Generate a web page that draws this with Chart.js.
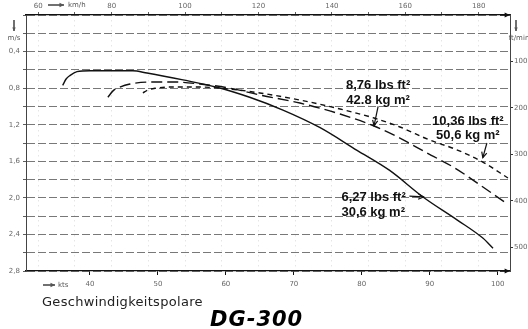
<!DOCTYPE html>
<html>
<head>
<meta charset="utf-8">
<script src="https://cdn.jsdelivr.net/npm/chart.js@4.4.0/dist/chart.umd.min.js"></script>
<style>
  html, body { margin: 0; padding: 0; background: #fff; }
  #wrap { position: relative; width: 528px; height: 329px; }
  #caption { position: absolute; left: 42px; top: 294px; font: 13px "DejaVu Sans", sans-serif; color: #222; letter-spacing: 0.3px; }
  #logo { position: absolute; left: 210px; top: 307px; font: italic bold 21px "DejaVu Sans", sans-serif; color: #000; letter-spacing: 1px; }
</style>
</head>
<body>
<div id="wrap">
  <canvas id="polar"></canvas>
  <div id="caption">Geschwindigkeitspolare</div>
  <div id="logo">DG-300</div>
</div>
<script>
// axis ranges / ticks
const ktsMin = 30.6, ktsMax = 101.8;
const sinkMax = 2.8;
const kmhPerKt = 1.852, ftminPerMs = 196.85;
const ktsTicks = [40, 50, 60, 70, 80, 90, 100];
const kmhGrid = [60, 70, 80, 90, 100, 110, 120, 130, 140, 150, 160, 170, 180];
const kmhLabels = [60, 80, 100, 120, 140, 160, 180];
const sinkGrid = [0, 0.2, 0.4, 0.6, 0.8, 1.0, 1.2, 1.4, 1.6, 1.8, 2.0, 2.2, 2.4, 2.6, 2.8];
const sinkLabels = [0.4, 0.8, 1.2, 1.6, 2.0, 2.4, 2.8];
const ftminTicks = [100, 200, 300, 400, 500];

// polars, speed in kts, sink in m/s
const speed306 = [36.0, 36.5, 37.1, 38.1, 40.0, 43.0, 46.3, 48.4, 53.7, 58.7, 63.5, 68.4, 73.8, 79.3, 84.1, 89.0, 94.0, 97.8, 99.3];
const sink306  = [0.77, 0.70, 0.66, 0.62, 0.61, 0.61, 0.61, 0.635, 0.71, 0.79, 0.90, 1.04, 1.23, 1.48, 1.70, 1.99, 2.24, 2.44, 2.55];
const speed428 = [42.65, 43.4, 44.4, 45.9, 48.8, 52.5, 56.2, 60.6, 65.0, 70.9, 76.8, 81.8, 85.6, 89.6, 93.7, 97.4, 101.0];
const sink428  = [0.90, 0.83, 0.79, 0.755, 0.733, 0.733, 0.755, 0.80, 0.875, 0.963, 1.083, 1.214, 1.346, 1.51, 1.674, 1.86, 2.046];
const speed506 = [47.8, 48.5, 49.7, 51.8, 56.2, 60.6, 65.0, 70.9, 76.8, 81.8, 85.6, 90.0, 93.7, 97.8, 101.5];
const sink506  = [0.853, 0.821, 0.80, 0.788, 0.788, 0.81, 0.853, 0.93, 1.028, 1.127, 1.225, 1.368, 1.466, 1.608, 1.783];

const loadLabels = [
  ['8,76 lbs ft²', '42.8 kg m²'],
  ['10,36 lbs ft²', '50,6 kg m²'],
  ['6,27 lbs ft²', '30,6 kg m²']
];

const zip = (xs, ys) => xs.map((x, i) => ({ x: x, y: ys[i] }));

function arrow(ctx, x1, y1, x2, y2, head, filled) {
  ctx.beginPath();
  ctx.moveTo(x1, y1);
  ctx.lineTo(x2, y2);
  ctx.stroke();
  const a = Math.atan2(y2 - y1, x2 - x1);
  ctx.beginPath();
  ctx.moveTo(x2 - head * Math.cos(a - 0.45), y2 - head * Math.sin(a - 0.45));
  ctx.lineTo(x2, y2);
  ctx.lineTo(x2 - head * Math.cos(a + 0.45), y2 - head * Math.sin(a + 0.45));
  if (filled) { ctx.closePath(); ctx.fill(); } else { ctx.stroke(); }
}

// text notes + arrows at data coordinates
const notesPlugin = {
  id: 'notes',
  afterDatasetsDraw(chart) {
    const { ctx, chartArea: ca, scales } = chart;
    const px = v => scales.x.getPixelForValue(v);
    const py = v => scales.y.getPixelForValue(v);
    const notes = [
      { text: loadLabels[0], x: 82.4, y: [0.766, 0.93], align: 'center', from: [82.4, 1.0], to: [81.8, 1.21] },
      { text: loadLabels[1], x: 95.6, y: [1.16, 1.313], align: 'center', from: [98.4, 1.40], to: [97.8, 1.56] },
      { text: loadLabels[2], x: 77.0, y: [1.99, 2.155], align: 'left', from: [87.0, 1.98], to: [89.1, 1.99] }
    ];
    ctx.save();
    ctx.fillStyle = '#111';
    ctx.strokeStyle = '#111';
    ctx.lineWidth = 1.2;
    ctx.font = 'bold 13px "Liberation Sans", Arial, sans-serif';
    ctx.textBaseline = 'middle';
    notes.forEach(n => {
      ctx.textAlign = n.align;
      n.text.forEach((t, i) => ctx.fillText(t, px(n.x), py(n.y[i])));
      arrow(ctx, px(n.from[0]), py(n.from[1]), px(n.to[0]), py(n.to[1]), 6, false);
    });

    // axis arrows and unit labels
    ctx.lineWidth = 1.2;
    arrow(ctx, ca.right - 10, ca.top, ca.right, ca.top, 6, true);
    arrow(ctx, ca.right - 10, ca.bottom, ca.right, ca.bottom, 6, true);
    ctx.font = '7px "DejaVu Sans", sans-serif';
    ctx.fillStyle = '#555';
    ctx.textAlign = 'left';
    arrow(ctx, ca.left + 22, 5, ca.left + 38, 5, 5, true);
    ctx.fillText('km/h', ca.left + 42, 5);
    arrow(ctx, ca.left + 17, ca.bottom + 14, ca.left + 29, ca.bottom + 14, 5, true);
    ctx.fillText('kts', ca.left + 32, ca.bottom + 14);
    ctx.textAlign = 'center';
    arrow(ctx, 14, 20, 14, 31, 4, true);
    ctx.fillText('m/s', 14, 38);
    arrow(ctx, ca.right + 6, 20, ca.right + 6, 31, 4, true);
    ctx.fillText('ft/min', ca.right + 9, 38);
    ctx.restore();
  }
};

const tickFont = { family: '"DejaVu Sans", sans-serif', size: 7 };

new Chart(document.getElementById('polar'), {
  type: 'scatter',
  data: {
    datasets: [
      { label: '30,6 kg/m²', data: zip(speed306, sink306), borderDash: [] },
      { label: '42,8 kg/m²', data: zip(speed428, sink428), borderDash: [11, 5] },
      { label: '50,6 kg/m²', data: zip(speed506, sink506), borderDash: [5, 4] }
    ].map(d => Object.assign(d, {
      showLine: true,
      pointRadius: 0,
      borderColor: '#111',
      borderWidth: 1.4,
      cubicInterpolationMode: 'monotone',
      xAxisID: 'x',
      yAxisID: 'y'
    }))
  },
  options: {
    responsive: true,
    maintainAspectRatio: false,
    animation: false,
    layout: { padding: 0 },
    plugins: { legend: { display: false }, tooltip: { enabled: false } },
    scales: {
      x: {
        type: 'linear', position: 'bottom', min: ktsMin, max: ktsMax,
        afterFit: s => { s.height = 58; },
        afterBuildTicks: s => { s.ticks = ktsTicks.map(v => ({ value: v })); },
        ticks: { color: '#666', font: tickFont, padding: 5, autoSkip: false, maxRotation: 0 },
        grid: { drawOnChartArea: false, drawTicks: true, tickLength: 4, color: '#111' },
        border: { color: '#111', width: 1.3 }
      },
      xTop: {
        type: 'linear', position: 'top', min: ktsMin * kmhPerKt, max: ktsMax * kmhPerKt,
        afterFit: s => { s.height = 15; },
        afterBuildTicks: s => { s.ticks = kmhGrid.map(v => ({ value: v })); },
        ticks: { color: '#666', font: tickFont, padding: 2, autoSkip: false, maxRotation: 0,
          callback: v => kmhLabels.includes(v) ? String(v) : '' },
        grid: { color: '#cfcfcf', lineWidth: 0.8, tickLength: 3, tickColor: '#333', tickBorderDash: [] },
        border: { color: '#111', width: 1.3, dash: [1, 4] }
      },
      y: {
        type: 'linear', position: 'left', reverse: true, min: 0, max: sinkMax,
        afterFit: s => { s.width = 26; },
        afterBuildTicks: s => { s.ticks = sinkGrid.map(v => ({ value: v })); },
        ticks: { color: '#666', font: tickFont, padding: 3, autoSkip: false,
          callback: v => sinkLabels.includes(+v.toFixed(1)) ? v.toFixed(1).replace('.', ',') : '' },
        grid: { color: '#555', lineWidth: 0.8, tickLength: 3, tickColor: '#333', tickBorderDash: [] },
        border: { color: '#444', width: 1, dash: [8, 3] }
      },
      yR: {
        type: 'linear', position: 'right', reverse: true, min: 0, max: sinkMax * ftminPerMs,
        afterFit: s => { s.width = 18; },
        afterBuildTicks: s => { s.ticks = ftminTicks.map(v => ({ value: v })); },
        ticks: { color: '#666', font: tickFont, padding: 1, autoSkip: false },
        grid: { drawOnChartArea: false, tickLength: 3, color: '#333' },
        border: { color: '#444', width: 1 }
      }
    }
  },
  plugins: [notesPlugin]
});
</script>
</body>
</html>
